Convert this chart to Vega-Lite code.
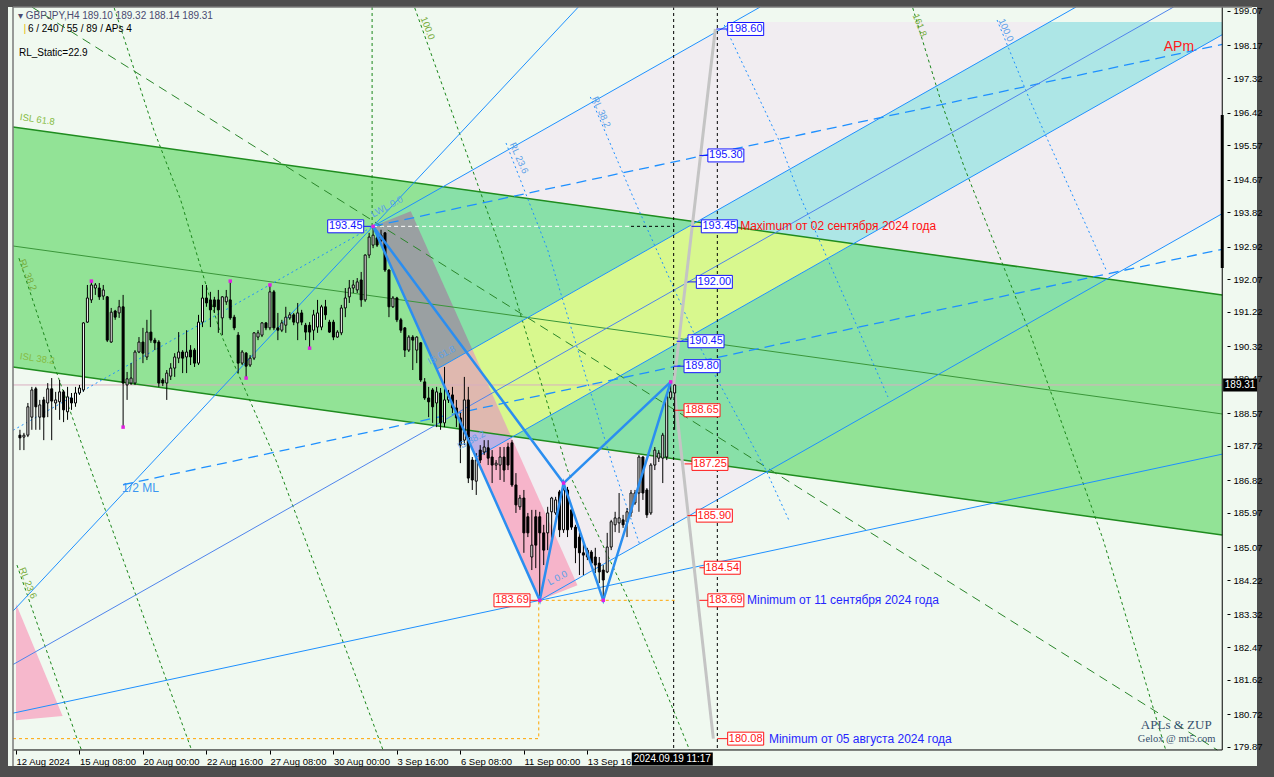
{
  "$schema": "https://vega.github.io/schema/vega-lite/v6.json",
  "width": 1249,
  "height": 759,
  "autosize": {"type": "none"},
  "padding": {"left": 8, "top": 7, "right": 17, "bottom": 11},
  "background": "#4e4e4e",
  "config": {
    "view": {"fill": "#f0f9f0", "stroke": null},
    "axis": {"domain": false, "grid": false, "labelFont": "Liberation Sans", "labelFontSize": 9.5, "labelColor": "#000000", "tickColor": "#000000", "labelFlush": false, "labelOverlap": false},
    "axisX": {"tickSize": 4, "labelAlign": "left", "labelBaseline": "top", "labelPadding": 2, "labelAngle": 0},
    "axisY": {"tickSize": 3, "labelPadding": 3, "labelBaseline": "middle"}
  },
  "datasets": {
    "zones": [
      {"z": "C", "k": 0, "b": 90, "p": 193.45}, {"z": "C", "k": 1, "b": 180.89, "p": 198.783}, {"z": "C", "k": 2, "b": 304, "p": 198.783}, {"z": "C", "k": 3, "b": 304, "p": 193.781}, {"z": "C", "k": 4, "b": 132, "p": 183.69},
      {"z": "G", "k": 0, "b": -0.75, "p": 196.042}, {"z": "G", "k": 1, "b": 304, "p": 191.658}, {"z": "G", "k": 2, "b": 304, "p": 185.395}, {"z": "G", "k": 3, "b": -0.75, "p": 189.779},
      {"z": "GC", "k": 0, "b": 90, "p": 193.45}, {"z": "GC", "k": 1, "b": 107.71, "p": 194.489}, {"z": "GC", "k": 2, "b": 275.04, "p": 192.082}, {"z": "GC", "k": 3, "b": 189.31, "p": 187.052}, {"z": "GC", "k": 4, "b": 112.79, "p": 188.153},
      {"z": "S", "k": 0, "b": 106.04, "p": 189.722}, {"z": "S", "k": 1, "b": 260.48, "p": 198.783}, {"z": "S", "k": 2, "b": 304, "p": 198.783}, {"z": "S", "k": 3, "b": 304, "p": 198.451}, {"z": "S", "k": 4, "b": 115.95, "p": 187.418},
      {"z": "Y", "k": 0, "b": 106.04, "p": 189.722}, {"z": "Y", "k": 1, "b": 171.63, "p": 193.57}, {"z": "Y", "k": 2, "b": 211.12, "p": 193.002}, {"z": "Y", "k": 3, "b": 125.39, "p": 187.972}, {"z": "Y", "k": 4, "b": 112.79, "p": 188.153},
      {"z": "gray", "k": 0, "b": 90, "p": 193.45}, {"z": "gray", "k": 1, "b": 99.5, "p": 193.842}, {"z": "gray", "k": 2, "b": 114.97, "p": 190.246}, {"z": "gray", "k": 3, "b": 106.04, "p": 189.722},
      {"z": "tan", "k": 0, "b": 106.04, "p": 189.722}, {"z": "tan", "k": 1, "b": 114.97, "p": 190.246}, {"z": "tan", "k": 2, "b": 124.72, "p": 187.982}, {"z": "tan", "k": 3, "b": 112.79, "p": 188.153},
      {"z": "lav", "k": 0, "b": 112.79, "p": 188.153}, {"z": "lav", "k": 1, "b": 124.72, "p": 187.982}, {"z": "lav", "k": 2, "b": 124.88, "p": 187.942}, {"z": "lav", "k": 3, "b": 115.95, "p": 187.418},
      {"z": "pink", "k": 0, "b": 115.95, "p": 187.418}, {"z": "pink", "k": 1, "b": 124.88, "p": 187.942}, {"z": "pink", "k": 2, "b": 141.5, "p": 184.082}, {"z": "pink", "k": 3, "b": 132, "p": 183.69},
      {"z": "tri", "k": 0, "b": 0, "p": 183.6}, {"z": "tri", "k": 1, "b": 11.75, "p": 180.67}, {"z": "tri", "k": 2, "b": 0, "p": 180.56}
    ],
    "lines": [
      {"s": "gedge", "id": "Gt", "k": 0, "b": -0.75, "p": 196.042}, {"s": "gedge", "id": "Gt", "k": 1, "b": 304, "p": 191.658},
      {"s": "gedge", "id": "Gb", "k": 0, "b": -0.75, "p": 189.779}, {"s": "gedge", "id": "Gb", "k": 1, "b": 304, "p": 185.395},
      {"s": "gmid", "id": "Gm", "k": 0, "b": -0.75, "p": 192.937}, {"s": "gmid", "id": "Gm", "k": 1, "b": 304, "p": 188.553},
      {"s": "blue", "id": "La", "k": 0, "b": -0.75, "p": 183.409}, {"s": "blue", "id": "La", "k": 1, "b": 141.73, "p": 199.174},
      {"s": "blue", "id": "P0", "k": 0, "b": 90, "p": 193.45}, {"s": "blue", "id": "P0", "k": 1, "b": 187.56, "p": 199.174},
      {"s": "blue", "id": "P1", "k": 0, "b": 106.04, "p": 189.722}, {"s": "blue", "id": "P1", "k": 1, "b": 267.16, "p": 199.174},
      {"s": "blue", "id": "P3", "k": 0, "b": 115.95, "p": 187.418}, {"s": "blue", "id": "P3", "k": 1, "b": 304, "p": 198.451},
      {"s": "blue", "id": "P4", "k": 0, "b": 132, "p": 183.69}, {"s": "blue", "id": "P4", "k": 1, "b": 304, "p": 193.781},
      {"s": "blue", "id": "Lc", "k": 0, "b": -0.75, "p": 180.745}, {"s": "blue", "id": "Lc", "k": 1, "b": 304, "p": 187.505},
      {"s": "blue2", "id": "P2", "k": 0, "b": -0.75, "p": 182.014}, {"s": "blue2", "id": "P2", "k": 1, "b": 291.74, "p": 199.174},
      {"s": "bluedot", "id": "P0L", "k": 0, "b": -0.75, "p": 188.126}, {"s": "bluedot", "id": "P0L", "k": 1, "b": 90, "p": 193.45},
      {"s": "bluedot", "id": "B1", "k": 0, "b": 123.5, "p": 195.625}, {"s": "bluedot", "id": "B1", "k": 1, "b": 134, "p": 192.833}, {"s": "bluedot", "id": "B1", "k": 2, "b": 150.5, "p": 187.17}, {"s": "bluedot", "id": "B1", "k": 3, "b": 157.25, "p": 185.13},
      {"s": "bluedot", "id": "B2", "k": 0, "b": 144.75, "p": 196.826}, {"s": "bluedot", "id": "B2", "k": 1, "b": 155.5, "p": 194.216}, {"s": "bluedot", "id": "B2", "k": 2, "b": 172.75, "p": 190.224}, {"s": "bluedot", "id": "B2", "k": 3, "b": 189, "p": 187.09}, {"s": "bluedot", "id": "B2", "k": 4, "b": 194.75, "p": 185.79},
      {"s": "bluedot", "id": "B3", "k": 0, "b": 178.5, "p": 198.705}, {"s": "bluedot", "id": "B3", "k": 1, "b": 192.25, "p": 195.703}, {"s": "bluedot", "id": "B3", "k": 2, "b": 197.25, "p": 194.32}, {"s": "bluedot", "id": "B3", "k": 3, "b": 219.75, "p": 188.997},
      {"s": "bluedot", "id": "B4", "k": 0, "b": 247.25, "p": 198.835}, {"s": "bluedot", "id": "B4", "k": 1, "b": 255.5, "p": 196.747}, {"s": "bluedot", "id": "B4", "k": 2, "b": 274.75, "p": 192.31},
      {"s": "bluedash", "id": "XT", "k": 0, "b": 90, "p": 193.45}, {"s": "bluedash", "id": "XT", "k": 1, "b": 304, "p": 198.197},
      {"s": "bluedash", "id": "ML2", "k": 0, "b": 27, "p": 186.706}, {"s": "bluedash", "id": "ML2", "k": 1, "b": 304, "p": 192.851},
      {"s": "greendash", "id": "Gv", "k": 0, "b": 89.75, "p": 199.174}, {"s": "greendash", "id": "Gv", "k": 1, "b": 89.75, "p": 193.45},
      {"s": "greendash", "id": "G1", "k": 0, "b": 100.5, "p": 199.15}, {"s": "greendash", "id": "G1", "k": 1, "b": 122.25, "p": 192.833}, {"s": "greendash", "id": "G1", "k": 2, "b": 139, "p": 187.09}, {"s": "greendash", "id": "G1", "k": 3, "b": 154.75, "p": 183.62}, {"s": "greendash", "id": "G1", "k": 4, "b": 169.75, "p": 179.784},
      {"s": "greendash", "id": "G2", "k": 0, "b": 0.75, "p": 192.62}, {"s": "greendash", "id": "G2", "k": 1, "b": 9.75, "p": 189.78}, {"s": "greendash", "id": "G2", "k": 2, "b": 18, "p": 187.35}, {"s": "greendash", "id": "G2", "k": 3, "b": 29.75, "p": 183.96}, {"s": "greendash", "id": "G2", "k": 4, "b": 44.25, "p": 179.784},
      {"s": "greendash", "id": "G3", "k": 0, "b": 0.25, "p": 184.61}, {"s": "greendash", "id": "G3", "k": 1, "b": 15.25, "p": 180.12}, {"s": "greendash", "id": "G3", "k": 2, "b": 16.5, "p": 179.784},
      {"s": "greendash", "id": "G4", "k": 0, "b": 24.75, "p": 199.15}, {"s": "greendash", "id": "G4", "k": 1, "b": 34.75, "p": 195.96}, {"s": "greendash", "id": "G4", "k": 2, "b": 41.5, "p": 194.14}, {"s": "greendash", "id": "G4", "k": 3, "b": 51.5, "p": 190.67}, {"s": "greendash", "id": "G4", "k": 4, "b": 65.5, "p": 187.35}, {"s": "greendash", "id": "G4", "k": 5, "b": 92.5, "p": 179.784},
      {"s": "greendash", "id": "G8", "k": 0, "b": 226, "p": 199.15}, {"s": "greendash", "id": "G8", "k": 1, "b": 233, "p": 196.75}, {"s": "greendash", "id": "G8", "k": 2, "b": 239, "p": 194.99}, {"s": "greendash", "id": "G8", "k": 3, "b": 255.5, "p": 190.67}, {"s": "greendash", "id": "G8", "k": 4, "b": 274, "p": 185.27}, {"s": "greendash", "id": "G8", "k": 5, "b": 289.75, "p": 179.784},
      {"s": "greenlong", "id": "G5", "k": 0, "b": 4, "p": 199.174}, {"s": "greenlong", "id": "G5", "k": 1, "b": 302.75, "p": 179.784},
      {"s": "orange", "id": "O1", "k": 0, "b": -0.75, "p": 180.08}, {"s": "orange", "id": "O1", "k": 1, "b": 131.75, "p": 180.08}, {"s": "orange", "id": "O1", "k": 2, "b": 131.75, "p": 183.69},
      {"s": "orange", "id": "O2", "k": 0, "b": 132, "p": 183.69}, {"s": "orange", "id": "O2", "k": 1, "b": 166, "p": 183.69},
      {"s": "whitedash", "id": "W", "k": 0, "b": 90, "p": 193.45}, {"s": "whitedash", "id": "W", "k": 1, "b": 155, "p": 193.45},
      {"s": "blackdash", "id": "K", "k": 0, "b": 155, "p": 193.45}, {"s": "blackdash", "id": "K", "k": 1, "b": 166, "p": 193.45},
      {"s": "blackdash", "id": "V1", "k": 0, "b": 165.75, "p": 199.174}, {"s": "blackdash", "id": "V1", "k": 1, "b": 165.75, "p": 179.784},
      {"s": "blackdash", "id": "V2", "k": 0, "b": 176.75, "p": 199.174}, {"s": "blackdash", "id": "V2", "k": 1, "b": 176.75, "p": 179.784},
      {"s": "forecast", "id": "F", "k": 0, "b": 176.25, "p": 198.6}, {"s": "forecast", "id": "F", "k": 1, "b": 165.75, "p": 189.31}, {"s": "forecast", "id": "F", "k": 2, "b": 175.75, "p": 180.08},
      {"s": "zup", "id": "Z1", "k": 0, "b": 90, "p": 193.45}, {"s": "zup", "id": "Z1", "k": 1, "b": 132, "p": 183.69}, {"s": "zup", "id": "Z1", "k": 2, "b": 138, "p": 186.75}, {"s": "zup", "id": "Z1", "k": 3, "b": 148, "p": 183.69}, {"s": "zup", "id": "Z1", "k": 4, "b": 165, "p": 189.39},
      {"s": "zup", "id": "Z2", "k": 0, "b": 90, "p": 193.45}, {"s": "zup", "id": "Z2", "k": 1, "b": 138, "p": 186.75}, {"s": "zup", "id": "Z2", "k": 2, "b": 165, "p": 189.39},
      {"s": "frame", "id": "R", "k": 0, "b": 304, "p": 179.784}, {"s": "frame", "id": "R", "k": 1, "b": 304, "p": 199.174},
      {"s": "frame", "id": "Bt", "k": 0, "b": -0.75, "p": 179.784}, {"s": "frame", "id": "Bt", "k": 1, "b": 304, "p": 179.784},
      {"s": "gframe", "id": "T", "k": 0, "b": -0.75, "p": 199.174}, {"s": "gframe", "id": "T", "k": 1, "b": 311.5, "p": 199.174},
      {"s": "gframe", "id": "L", "k": 0, "b": -0.75, "p": 199.174}, {"s": "gframe", "id": "L", "k": 1, "b": -0.75, "p": 179.366},
      {"s": "priceline", "id": "PL", "k": 0, "b": -0.75, "p": 189.31}, {"s": "priceline", "id": "PL", "k": 1, "b": 304, "p": 189.31},
      {"s": "axisbar", "id": "AB", "k": 0, "b": 304, "p": 196.356}, {"s": "axisbar", "id": "AB", "k": 1, "b": 304, "p": 192.363}
    ],
    "candles": [
      {"b":1,"o":188.00,"h":188.14,"l":187.61,"c":187.93},{"b":2,"o":187.95,"h":188.06,"l":187.61,"c":188.00},{"b":3,"o":188.00,"h":188.84,"l":187.95,"c":188.74},{"b":4,"o":188.47,"h":189.26,"l":188.14,"c":189.18},{"b":5,"o":189.21,"h":189.26,"l":188.14,"c":188.74},
      {"b":6,"o":188.47,"h":188.92,"l":188.14,"c":188.79},{"b":7,"o":188.92,"h":189.00,"l":187.87,"c":188.47},{"b":8,"o":188.84,"h":189.36,"l":188.47,"c":189.21},{"b":9,"o":189.21,"h":189.49,"l":187.87,"c":188.89},{"b":10,"o":188.84,"h":189.13,"l":188.66,"c":188.92},
      {"b":11,"o":188.87,"h":189.44,"l":188.40,"c":189.13},{"b":12,"o":189.13,"h":189.18,"l":188.34,"c":188.66},{"b":13,"o":188.61,"h":189.26,"l":188.40,"c":189.00},{"b":14,"o":188.97,"h":189.10,"l":188.66,"c":188.84},{"b":15,"o":188.84,"h":189.26,"l":188.74,"c":189.10},
      {"b":16,"o":189.10,"h":189.31,"l":189.05,"c":189.23},{"b":17,"o":189.18,"h":190.95,"l":189.13,"c":190.93},{"b":18,"o":190.95,"h":191.92,"l":190.93,"c":191.58},{"b":19,"o":191.53,"h":192.02,"l":191.45,"c":191.92},{"b":20,"o":191.84,"h":191.97,"l":191.66,"c":191.92},
      {"b":21,"o":191.84,"h":191.97,"l":191.53,"c":191.61},{"b":22,"o":191.63,"h":191.92,"l":191.53,"c":191.79},{"b":23,"o":191.61,"h":191.63,"l":190.43,"c":190.48},{"b":24,"o":190.43,"h":191.32,"l":190.41,"c":191.21},{"b":25,"o":191.24,"h":191.27,"l":191.01,"c":191.08},
      {"b":26,"o":191.19,"h":191.53,"l":191.06,"c":191.35},{"b":27,"o":191.35,"h":191.66,"l":188.21,"c":189.36},{"b":28,"o":189.31,"h":189.65,"l":188.92,"c":189.47},{"b":29,"o":189.36,"h":189.88,"l":189.31,"c":189.49},{"b":30,"o":189.36,"h":190.22,"l":189.31,"c":190.17},
      {"b":31,"o":190.17,"h":190.56,"l":190.14,"c":190.43},{"b":32,"o":190.43,"h":190.80,"l":189.88,"c":190.14},{"b":33,"o":190.04,"h":191.01,"l":189.96,"c":190.69},{"b":34,"o":190.69,"h":191.27,"l":190.41,"c":190.48},{"b":35,"o":190.48,"h":190.54,"l":190.22,"c":190.41},
      {"b":36,"o":190.43,"h":190.48,"l":189.26,"c":189.36},{"b":37,"o":189.44,"h":189.49,"l":189.28,"c":189.36},{"b":38,"o":189.36,"h":189.70,"l":188.92,"c":189.62},{"b":39,"o":189.54,"h":189.88,"l":189.44,"c":189.75},{"b":40,"o":189.75,"h":190.14,"l":189.52,"c":190.04},
      {"b":41,"o":190.01,"h":190.69,"l":189.88,"c":190.17},{"b":42,"o":190.17,"h":190.22,"l":189.62,"c":190.01},{"b":43,"o":190.04,"h":190.74,"l":189.62,"c":190.17},{"b":44,"o":190.22,"h":190.35,"l":189.83,"c":190.04},{"b":45,"o":190.22,"h":190.27,"l":189.78,"c":189.88},
      {"b":46,"o":189.88,"h":191.14,"l":189.83,"c":190.95},{"b":47,"o":190.95,"h":191.92,"l":190.82,"c":191.58},{"b":48,"o":191.58,"h":191.92,"l":191.35,"c":191.45},{"b":49,"o":191.53,"h":191.74,"l":190.82,"c":191.27},{"b":50,"o":191.53,"h":191.61,"l":191.19,"c":191.35},
      {"b":51,"o":191.53,"h":191.79,"l":190.67,"c":191.27},{"b":52,"o":191.06,"h":191.63,"l":190.61,"c":191.61},{"b":53,"o":191.48,"h":191.79,"l":191.40,"c":191.61},{"b":54,"o":191.53,"h":192.02,"l":191.01,"c":191.06},{"b":55,"o":191.08,"h":191.14,"l":190.74,"c":190.80},
      {"b":56,"o":190.61,"h":190.69,"l":189.62,"c":189.88},{"b":57,"o":189.88,"h":190.22,"l":189.83,"c":190.17},{"b":58,"o":190.14,"h":190.17,"l":189.49,"c":189.80},{"b":59,"o":189.83,"h":190.09,"l":189.78,"c":190.01},{"b":60,"o":190.01,"h":190.69,"l":189.96,"c":190.67},
      {"b":61,"o":190.56,"h":190.74,"l":190.48,"c":190.67},{"b":62,"o":190.61,"h":190.95,"l":190.56,"c":190.93},{"b":63,"o":190.93,"h":190.95,"l":190.74,"c":190.80},{"b":64,"o":190.80,"h":191.92,"l":190.74,"c":191.74},{"b":65,"o":191.74,"h":191.79,"l":190.74,"c":190.80},
      {"b":66,"o":190.80,"h":191.19,"l":190.48,"c":190.74},{"b":67,"o":190.74,"h":191.01,"l":190.69,"c":190.93},{"b":68,"o":190.87,"h":191.35,"l":190.67,"c":191.08},{"b":69,"o":191.06,"h":191.21,"l":191.01,"c":191.14},{"b":70,"o":191.14,"h":191.19,"l":190.87,"c":190.95},
      {"b":71,"o":190.93,"h":191.45,"l":190.48,"c":191.19},{"b":72,"o":191.19,"h":191.27,"l":190.87,"c":190.95},{"b":73,"o":190.87,"h":190.93,"l":190.48,"c":190.69},{"b":74,"o":190.87,"h":190.95,"l":190.27,"c":190.69},{"b":75,"o":190.74,"h":191.27,"l":190.48,"c":191.14},
      {"b":76,"o":190.82,"h":191.53,"l":190.67,"c":191.19},{"b":77,"o":190.82,"h":191.40,"l":190.74,"c":191.35},{"b":78,"o":191.35,"h":191.53,"l":191.01,"c":191.14},{"b":79,"o":190.95,"h":191.01,"l":190.67,"c":190.69},{"b":80,"o":190.95,"h":191.01,"l":190.48,"c":190.56},
      {"b":81,"o":190.56,"h":190.74,"l":190.54,"c":190.69},{"b":82,"o":190.67,"h":191.40,"l":190.61,"c":191.32},{"b":83,"o":191.32,"h":191.84,"l":191.08,"c":191.58},{"b":84,"o":191.61,"h":192.05,"l":191.45,"c":191.84},{"b":85,"o":191.84,"h":192.05,"l":191.71,"c":191.92},
      {"b":86,"o":191.79,"h":192.10,"l":191.71,"c":192.00},{"b":87,"o":192.05,"h":192.26,"l":191.35,"c":191.53},{"b":88,"o":191.53,"h":192.72,"l":191.48,"c":192.70},{"b":89,"o":192.70,"h":193.28,"l":192.62,"c":193.17},{"b":90,"o":192.96,"h":193.45,"l":192.88,"c":193.22},
      {"b":91,"o":193.15,"h":193.22,"l":192.91,"c":192.96},{"b":92,"o":193.09,"h":193.36,"l":193.04,"c":193.22},{"b":93,"o":193.28,"h":193.30,"l":192.26,"c":192.31},{"b":94,"o":192.31,"h":192.33,"l":191.08,"c":191.35},{"b":95,"o":191.35,"h":191.63,"l":191.32,"c":191.58},
      {"b":96,"o":191.58,"h":191.61,"l":190.95,"c":191.01},{"b":97,"o":191.01,"h":191.06,"l":190.67,"c":190.74},{"b":98,"o":190.80,"h":190.82,"l":190.04,"c":190.22},{"b":99,"o":190.22,"h":190.61,"l":190.17,"c":190.56},{"b":100,"o":190.56,"h":190.61,"l":189.70,"c":190.48},
      {"b":101,"o":190.22,"h":190.58,"l":189.88,"c":190.56},{"b":102,"o":190.41,"h":190.43,"l":189.39,"c":189.44},{"b":103,"o":189.39,"h":189.49,"l":188.92,"c":188.97},{"b":104,"o":188.97,"h":189.26,"l":188.47,"c":188.87},{"b":105,"o":189.18,"h":189.23,"l":188.32,"c":188.74},
      {"b":106,"o":188.84,"h":189.26,"l":188.21,"c":189.13},{"b":107,"o":189.10,"h":189.23,"l":188.14,"c":188.32},{"b":108,"o":188.32,"h":189.78,"l":188.21,"c":188.92},{"b":109,"o":188.92,"h":189.18,"l":188.84,"c":189.10},{"b":110,"o":189.05,"h":189.26,"l":188.58,"c":188.71},
      {"b":111,"o":188.71,"h":188.92,"l":188.21,"c":188.45},{"b":112,"o":188.45,"h":188.58,"l":187.27,"c":187.74},{"b":113,"o":187.87,"h":189.52,"l":187.74,"c":188.92},{"b":114,"o":188.92,"h":189.26,"l":186.75,"c":186.88},{"b":115,"o":187.35,"h":187.43,"l":186.57,"c":186.83},
      {"b":116,"o":186.80,"h":187.53,"l":186.44,"c":187.35},{"b":117,"o":187.61,"h":187.74,"l":187.27,"c":187.35},{"b":118,"o":187.56,"h":187.87,"l":187.48,"c":187.69},{"b":119,"o":187.67,"h":187.87,"l":187.22,"c":187.40},{"b":120,"o":187.43,"h":187.61,"l":186.75,"c":187.22},
      {"b":121,"o":187.22,"h":187.35,"l":187.09,"c":187.27},{"b":122,"o":187.22,"h":187.69,"l":186.83,"c":187.43},{"b":123,"o":187.43,"h":187.69,"l":186.78,"c":187.09},{"b":124,"o":187.69,"h":187.80,"l":187.09,"c":187.22},{"b":125,"o":187.80,"h":187.87,"l":186.65,"c":186.70},
      {"b":126,"o":186.70,"h":187.01,"l":185.97,"c":186.18},{"b":127,"o":186.13,"h":186.44,"l":186.05,"c":186.36},{"b":128,"o":186.36,"h":186.57,"l":184.93,"c":185.45},{"b":129,"o":185.87,"h":185.97,"l":185.34,"c":185.45},{"b":130,"o":184.82,"h":186.05,"l":184.48,"c":185.13},
      {"b":131,"o":185.87,"h":186.05,"l":184.53,"c":185.13},{"b":132,"o":185.87,"h":186.00,"l":183.69,"c":185.45},{"b":133,"o":185.45,"h":185.66,"l":184.61,"c":185.00},{"b":134,"o":185.45,"h":186.13,"l":185.00,"c":185.97},{"b":135,"o":186.00,"h":186.39,"l":185.32,"c":186.36},
      {"b":136,"o":185.97,"h":186.39,"l":185.92,"c":186.31},{"b":137,"o":186.52,"h":186.57,"l":185.34,"c":185.53},{"b":138,"o":185.53,"h":186.75,"l":185.45,"c":186.57},{"b":139,"o":186.57,"h":186.65,"l":185.34,"c":185.53},{"b":140,"o":186.05,"h":186.13,"l":185.53,"c":185.60},
      {"b":141,"o":185.60,"h":185.66,"l":184.66,"c":185.06},{"b":142,"o":185.34,"h":185.45,"l":184.35,"c":184.93},{"b":143,"o":184.93,"h":185.19,"l":184.35,"c":184.87},{"b":144,"o":184.82,"h":185.06,"l":184.74,"c":185.00},{"b":145,"o":184.95,"h":185.00,"l":184.61,"c":184.66},
      {"b":146,"o":184.82,"h":185.06,"l":184.40,"c":184.61},{"b":147,"o":184.66,"h":184.82,"l":184.14,"c":184.43},{"b":148,"o":184.48,"h":184.61,"l":183.69,"c":184.22},{"b":149,"o":184.43,"h":185.45,"l":184.40,"c":185.08},{"b":150,"o":185.08,"h":185.79,"l":185.00,"c":185.74},
      {"b":151,"o":185.66,"h":186.00,"l":185.47,"c":185.84},{"b":152,"o":185.71,"h":186.49,"l":185.45,"c":185.84},{"b":153,"o":185.79,"h":185.92,"l":185.58,"c":185.66},{"b":154,"o":185.74,"h":186.10,"l":185.34,"c":186.00},{"b":155,"o":185.97,"h":186.57,"l":185.87,"c":186.49},
      {"b":156,"o":186.23,"h":186.57,"l":186.18,"c":186.49},{"b":157,"o":186.49,"h":187.48,"l":186.00,"c":187.43},{"b":158,"o":187.43,"h":187.45,"l":186.31,"c":186.49},{"b":159,"o":186.57,"h":186.62,"l":185.84,"c":185.92},{"b":160,"o":185.97,"h":187.27,"l":185.92,"c":187.22},
      {"b":161,"o":187.22,"h":187.69,"l":187.09,"c":187.61},{"b":162,"o":187.40,"h":187.61,"l":187.30,"c":187.53},{"b":163,"o":187.40,"h":188.06,"l":186.75,"c":188.00},{"b":164,"o":187.43,"h":189.05,"l":187.35,"c":189.00},{"b":165,"o":188.97,"h":189.39,"l":188.92,"c":189.13},
      {"b":166,"o":189.10,"h":189.32,"l":188.14,"c":189.31}
    ],
    "pivots": [
      {"b": 19, "p": 192.02}, {"b": 27, "p": 188.21}, {"b": 54, "p": 192.02}, {"b": 58, "p": 189.49}, {"b": 64, "p": 191.92}, {"b": 74, "p": 190.27},
      {"b": 90, "p": 193.45}, {"b": 132, "p": 183.69}, {"b": 138, "p": 186.75}, {"b": 148, "p": 183.69}, {"b": 165, "p": 189.39}
    ],
    "levels": [
      {"t": "198.60", "p": 198.6, "bx": 183.9, "ba": 176.5, "kind": "blue"},
      {"t": "195.30", "p": 195.3, "bx": 178.9, "ba": 172.25, "kind": "blue"},
      {"t": "193.45", "p": 193.45, "bx": 177.25, "ba": 170.25, "kind": "blue"},
      {"t": "192.00", "p": 192.0, "bx": 176.0, "ba": 169.25, "kind": "blue"},
      {"t": "190.45", "p": 190.45, "bx": 173.9, "ba": 166.5, "kind": "blue"},
      {"t": "189.80", "p": 189.8, "bx": 172.9, "ba": 165.75, "kind": "blue"},
      {"t": "193.45", "p": 193.45, "bx": 83.1, "ba": 89.5, "kind": "blue"},
      {"t": "188.65", "p": 188.65, "bx": 172.9, "ba": 166.0, "kind": "red"},
      {"t": "187.25", "p": 187.25, "bx": 174.9, "ba": 168.5, "kind": "red"},
      {"t": "185.90", "p": 185.9, "bx": 176.0, "ba": 169.25, "kind": "red"},
      {"t": "184.54", "p": 184.54, "bx": 178.0, "ba": 172.25, "kind": "red"},
      {"t": "183.69", "p": 183.69, "bx": 178.9, "ba": 172.25, "kind": "red"},
      {"t": "180.08", "p": 180.08, "bx": 183.9, "ba": 176.75, "kind": "red"},
      {"t": "183.69", "p": 183.69, "bx": 125.0, "ba": 131.5, "kind": "red"}
    ],
    "notes": [
      {"w": "maxred", "t": "Maximum от 02 сентября 2024 года", "b": 182.5, "p": 193.45},
      {"w": "minblue", "t": "Minimum от 11 сентября 2024 года", "b": 184.25, "p": 183.69},
      {"w": "minblue", "t": "Minimum от 05 августа 2024 года", "b": 189.75, "p": 180.08},
      {"w": "apm", "t": "APm", "b": 289.25, "p": 198.13},
      {"w": "apls", "t": "APLs & ZUP", "b": 292.4, "p": 180.43},
      {"w": "gelox", "t": "Gelox @ mt5.com", "b": 292.5, "p": 180.06},
      {"w": "ml", "t": "1/2 ML", "b": 26.75, "p": 186.62},
      {"w": "hdr", "t": "▾  GBPJPY,H4  189.10 189.32 188.14 189.31", "b": 0.5, "p": 198.94},
      {"w": "hdr2", "t": "6 / 240 / 55 / 89 / APs 4", "b": 3.0, "p": 198.6},
      {"w": "hdr2", "t": "RL_Static=22.9", "b": 0.75, "p": 197.97},
      {"w": "ybar", "t": "|", "b": 1.9, "p": 198.6},
      {"w": "isl", "t": "ISL 61.8", "b": 1.0, "p": 196.3},
      {"w": "isl", "t": "ISL 38.2", "b": 1.0, "p": 190.06},
      {"w": "glab", "t": "RL 38.2", "b": 3.0, "p": 192.18},
      {"w": "glab", "t": "RL 23.6", "b": 3.0, "p": 184.14},
      {"w": "glab", "t": "100.0", "b": 103.75, "p": 198.62},
      {"w": "glab", "t": "161.8", "b": 227.75, "p": 198.7},
      {"w": "blab", "t": "RL 23.6", "b": 126.75, "p": 195.23},
      {"w": "blab", "t": "RL 38.2", "b": 147.5, "p": 196.43},
      {"w": "blab", "t": "100.0", "b": 249.5, "p": 198.57},
      {"w": "blab2", "t": "IS 61.8", "b": 107.25, "p": 190.09},
      {"w": "blab2", "t": "IS 38.2", "b": 114.75, "p": 187.87},
      {"w": "blab2", "t": "L 0.0", "b": 136.5, "p": 184.27},
      {"w": "blab2", "t": "LWL 0.0", "b": 93.5, "p": 193.96}
    ],
    "tags": [
      {"w": "cur", "t": "189.31", "b": 308.5, "p": 189.31},
      {"w": "time", "t": "2024.09.19 11:17", "b": 165.4, "p": 179.55}
    ]
  },
  "encoding": {
    "x": {"field": "b", "type": "quantitative", "scale": {"domain": [-0.75, 311.5], "nice": false, "zero": false},
      "axis": {"title": null, "orient": "bottom", "offset": -16, "values": [0, 16, 32, 48, 64, 80, 96, 112, 128, 144],
        "labelExpr": "datum.value < 8 ? '12 Aug 2024' : datum.value < 24 ? '15 Aug 08:00' : datum.value < 40 ? '20 Aug 00:00' : datum.value < 56 ? '22 Aug 16:00' : datum.value < 72 ? '27 Aug 08:00' : datum.value < 88 ? '30 Aug 00:00' : datum.value < 104 ? '3 Sep 16:00' : datum.value < 120 ? '6 Sep 08:00' : datum.value < 136 ? '11 Sep 00:00' : '13 Sep 16:00'"}},
    "y": {"field": "p", "type": "quantitative", "scale": {"domain": [179.366, 199.174], "nice": false, "zero": false},
      "axis": {"title": null, "orient": "right", "offset": -30, "format": ".2f",
        "values": [199.07, 198.17, 197.32, 196.42, 195.57, 194.67, 193.82, 192.92, 192.07, 191.22, 190.32, 189.47, 188.57, 187.72, 186.82, 185.97, 185.07, 184.22, 183.32, 182.47, 181.62, 180.72, 179.87]}}
  },
  "layer": [
    {"data": {"name": "zones"}, "transform": [{"filter": "datum.z === 'C'"}], "mark": {"type": "line", "fill": "#f1edf1", "stroke": "transparent", "strokeWidth": 0}, "encoding": {"order": {"field": "k", "type": "quantitative"}}},
    {"data": {"name": "zones"}, "transform": [{"filter": "datum.z === 'G'"}], "mark": {"type": "line", "fill": "#92e396", "stroke": "transparent", "strokeWidth": 0}, "encoding": {"order": {"field": "k", "type": "quantitative"}}},
    {"data": {"name": "zones"}, "transform": [{"filter": "datum.z === 'GC'"}], "mark": {"type": "line", "fill": "#88e0a8", "stroke": "transparent", "strokeWidth": 0}, "encoding": {"order": {"field": "k", "type": "quantitative"}}},
    {"data": {"name": "zones"}, "transform": [{"filter": "datum.z === 'S'"}], "mark": {"type": "line", "fill": "#ade6e6", "stroke": "transparent", "strokeWidth": 0}, "encoding": {"order": {"field": "k", "type": "quantitative"}}},
    {"data": {"name": "zones"}, "transform": [{"filter": "datum.z === 'Y'"}], "mark": {"type": "line", "fill": "#d8f88e", "stroke": "transparent", "strokeWidth": 0}, "encoding": {"order": {"field": "k", "type": "quantitative"}}},
    {"data": {"name": "zones"}, "transform": [{"filter": "datum.z === 'gray'"}], "mark": {"type": "line", "fill": "#9aa0a2", "stroke": "transparent", "strokeWidth": 0}, "encoding": {"order": {"field": "k", "type": "quantitative"}}},
    {"data": {"name": "zones"}, "transform": [{"filter": "datum.z === 'tan'"}], "mark": {"type": "line", "fill": "#dfb8af", "stroke": "transparent", "strokeWidth": 0}, "encoding": {"order": {"field": "k", "type": "quantitative"}}},
    {"data": {"name": "zones"}, "transform": [{"filter": "datum.z === 'lav'"}], "mark": {"type": "line", "fill": "#bcb0e4", "stroke": "transparent", "strokeWidth": 0}, "encoding": {"order": {"field": "k", "type": "quantitative"}}},
    {"data": {"name": "zones"}, "transform": [{"filter": "datum.z === 'pink'"}], "mark": {"type": "line", "fill": "#f6b4ca", "stroke": "transparent", "strokeWidth": 0}, "encoding": {"order": {"field": "k", "type": "quantitative"}}},
    {"data": {"name": "zones"}, "transform": [{"filter": "datum.z === 'tri'"}], "mark": {"type": "line", "fill": "#f6b8cc", "stroke": "transparent", "strokeWidth": 0}, "encoding": {"order": {"field": "k", "type": "quantitative"}}},

    {"data": {"name": "lines"}, "transform": [{"filter": "datum.s === 'priceline'"}], "mark": {"type": "line", "color": "#d9aec0", "strokeWidth": 1}, "encoding": {"detail": {"field": "id"}, "order": {"field": "k", "type": "quantitative"}}},
    {"data": {"name": "lines"}, "transform": [{"filter": "datum.s === 'gedge'"}], "mark": {"type": "line", "color": "#1f8c1f", "strokeWidth": 1.5}, "encoding": {"detail": {"field": "id"}, "order": {"field": "k", "type": "quantitative"}}},
    {"data": {"name": "lines"}, "transform": [{"filter": "datum.s === 'gmid'"}], "mark": {"type": "line", "color": "#3a963a", "strokeWidth": 1}, "encoding": {"detail": {"field": "id"}, "order": {"field": "k", "type": "quantitative"}}},
    {"data": {"name": "lines"}, "transform": [{"filter": "datum.s === 'greendash'"}], "mark": {"type": "line", "color": "#1a861a", "strokeWidth": 1, "strokeDash": [3, 3]}, "encoding": {"detail": {"field": "id"}, "order": {"field": "k", "type": "quantitative"}}},
    {"data": {"name": "lines"}, "transform": [{"filter": "datum.s === 'greenlong'"}], "mark": {"type": "line", "color": "#2a862a", "strokeWidth": 1, "strokeDash": [9, 6]}, "encoding": {"detail": {"field": "id"}, "order": {"field": "k", "type": "quantitative"}}},
    {"data": {"name": "lines"}, "transform": [{"filter": "datum.s === 'bluedot'"}], "mark": {"type": "line", "color": "#1e90ff", "strokeWidth": 1, "strokeDash": [2, 3]}, "encoding": {"detail": {"field": "id"}, "order": {"field": "k", "type": "quantitative"}}},
    {"data": {"name": "lines"}, "transform": [{"filter": "datum.s === 'bluedash'"}], "mark": {"type": "line", "color": "#1e90ff", "strokeWidth": 1.3, "strokeDash": [10, 6]}, "encoding": {"detail": {"field": "id"}, "order": {"field": "k", "type": "quantitative"}}},
    {"data": {"name": "lines"}, "transform": [{"filter": "datum.s === 'blue'"}], "mark": {"type": "line", "color": "#1e90ff", "strokeWidth": 1}, "encoding": {"detail": {"field": "id"}, "order": {"field": "k", "type": "quantitative"}}},
    {"data": {"name": "lines"}, "transform": [{"filter": "datum.s === 'blue2'"}], "mark": {"type": "line", "color": "#4f84ec", "strokeWidth": 1}, "encoding": {"detail": {"field": "id"}, "order": {"field": "k", "type": "quantitative"}}},
    {"data": {"name": "lines"}, "transform": [{"filter": "datum.s === 'orange'"}], "mark": {"type": "line", "color": "#ffa500", "strokeWidth": 1, "strokeDash": [3, 3]}, "encoding": {"detail": {"field": "id"}, "order": {"field": "k", "type": "quantitative"}}},
    {"data": {"name": "lines"}, "transform": [{"filter": "datum.s === 'whitedash'"}], "mark": {"type": "line", "color": "#ffffff", "strokeWidth": 1, "strokeDash": [4, 3]}, "encoding": {"detail": {"field": "id"}, "order": {"field": "k", "type": "quantitative"}}},
    {"data": {"name": "lines"}, "transform": [{"filter": "datum.s === 'blackdash'"}], "mark": {"type": "line", "color": "#000000", "strokeWidth": 1, "strokeDash": [3, 3]}, "encoding": {"detail": {"field": "id"}, "order": {"field": "k", "type": "quantitative"}}},
    {"data": {"name": "lines"}, "transform": [{"filter": "datum.s === 'forecast'"}], "mark": {"type": "line", "color": "#c4c4c4", "strokeWidth": 3}, "encoding": {"detail": {"field": "id"}, "order": {"field": "k", "type": "quantitative"}}},

    {"data": {"name": "candles"}, "mark": {"type": "rule", "color": "#000000", "strokeWidth": 1},
      "encoding": {"y": {"field": "l", "type": "quantitative", "scale": {"domain": [179.366, 199.174], "nice": false, "zero": false},
        "axis": {"title": null, "orient": "right", "offset": -30, "format": ".2f", "values": [199.07, 198.17, 197.32, 196.42, 195.57, 194.67, 193.82, 192.92, 192.07, 191.22, 190.32, 189.47, 188.57, 187.72, 186.82, 185.97, 185.07, 184.22, 183.32, 182.47, 181.62, 180.72, 179.87]}},
        "y2": {"field": "h"}}},
    {"data": {"name": "candles"}, "mark": {"type": "bar", "size": 2, "stroke": "#000000", "strokeWidth": 1},
      "encoding": {"y": {"field": "o", "type": "quantitative", "scale": {"domain": [179.366, 199.174], "nice": false, "zero": false},
        "axis": {"title": null, "orient": "right", "offset": -30, "format": ".2f", "values": [199.07, 198.17, 197.32, 196.42, 195.57, 194.67, 193.82, 192.92, 192.07, 191.22, 190.32, 189.47, 188.57, 187.72, 186.82, 185.97, 185.07, 184.22, 183.32, 182.47, 181.62, 180.72, 179.87]}},
        "y2": {"field": "c"},
        "fill": {"condition": {"test": "datum.c >= datum.o", "value": "#ffffff"}, "value": "#000000"}}},

    {"data": {"name": "lines"}, "transform": [{"filter": "datum.s === 'zup'"}], "mark": {"type": "line", "color": "#2b8ef0", "strokeWidth": 2.5}, "encoding": {"detail": {"field": "id"}, "order": {"field": "k", "type": "quantitative"}}},
    {"data": {"name": "pivots"}, "mark": {"type": "square", "size": 12, "color": "#e020e0", "opacity": 1}},
    {"data": {"name": "lines"}, "transform": [{"filter": "datum.s === 'frame'"}], "mark": {"type": "line", "color": "#000000", "strokeWidth": 1}, "encoding": {"detail": {"field": "id"}, "order": {"field": "k", "type": "quantitative"}}},
    {"data": {"name": "lines"}, "transform": [{"filter": "datum.s === 'gframe'"}], "mark": {"type": "line", "color": "#7a7a7a", "strokeWidth": 1.5}, "encoding": {"detail": {"field": "id"}, "order": {"field": "k", "type": "quantitative"}}},
    {"data": {"name": "lines"}, "transform": [{"filter": "datum.s === 'axisbar'"}], "mark": {"type": "line", "color": "#000000", "strokeWidth": 3}, "encoding": {"detail": {"field": "id"}, "order": {"field": "k", "type": "quantitative"}}},

    {"data": {"name": "levels"}, "mark": {"type": "rule", "strokeWidth": 1},
      "encoding": {"x": {"field": "ba", "type": "quantitative", "scale": {"domain": [-0.75, 311.5], "nice": false, "zero": false},
        "axis": {"title": null, "orient": "bottom", "offset": -16, "values": [0, 16, 32, 48, 64, 80, 96, 112, 128, 144],
          "labelExpr": "datum.value < 8 ? '12 Aug 2024' : datum.value < 24 ? '15 Aug 08:00' : datum.value < 40 ? '20 Aug 00:00' : datum.value < 56 ? '22 Aug 16:00' : datum.value < 72 ? '27 Aug 08:00' : datum.value < 88 ? '30 Aug 00:00' : datum.value < 104 ? '3 Sep 16:00' : datum.value < 120 ? '6 Sep 08:00' : datum.value < 136 ? '11 Sep 00:00' : '13 Sep 16:00'"}},
        "x2": {"field": "bx"},
        "color": {"field": "kind", "type": "nominal", "scale": {"domain": ["blue", "red"], "range": ["#1414ff", "#ff1414"]}, "legend": null}}},
    {"data": {"name": "levels"}, "mark": {"type": "point", "shape": "M-1,-0.36H1V0.36H-1Z", "size": 1296, "filled": true, "fill": "#ffffff", "fillOpacity": 1, "opacity": 1, "strokeWidth": 1},
      "encoding": {"x": {"field": "bx", "type": "quantitative", "scale": {"domain": [-0.75, 311.5], "nice": false, "zero": false},
        "axis": {"title": null, "orient": "bottom", "offset": -16, "values": [0, 16, 32, 48, 64, 80, 96, 112, 128, 144],
          "labelExpr": "datum.value < 8 ? '12 Aug 2024' : datum.value < 24 ? '15 Aug 08:00' : datum.value < 40 ? '20 Aug 00:00' : datum.value < 56 ? '22 Aug 16:00' : datum.value < 72 ? '27 Aug 08:00' : datum.value < 88 ? '30 Aug 00:00' : datum.value < 104 ? '3 Sep 16:00' : datum.value < 120 ? '6 Sep 08:00' : datum.value < 136 ? '11 Sep 00:00' : '13 Sep 16:00'"}},
        "stroke": {"field": "kind", "type": "nominal", "scale": {"domain": ["blue", "red"], "range": ["#1414ff", "#ff1414"]}, "legend": null}}},
    {"data": {"name": "levels"}, "mark": {"type": "text", "font": "Liberation Sans", "fontSize": 11, "align": "center", "baseline": "middle"},
      "encoding": {"x": {"field": "bx", "type": "quantitative", "scale": {"domain": [-0.75, 311.5], "nice": false, "zero": false},
        "axis": {"title": null, "orient": "bottom", "offset": -16, "values": [0, 16, 32, 48, 64, 80, 96, 112, 128, 144],
          "labelExpr": "datum.value < 8 ? '12 Aug 2024' : datum.value < 24 ? '15 Aug 08:00' : datum.value < 40 ? '20 Aug 00:00' : datum.value < 56 ? '22 Aug 16:00' : datum.value < 72 ? '27 Aug 08:00' : datum.value < 88 ? '30 Aug 00:00' : datum.value < 104 ? '3 Sep 16:00' : datum.value < 120 ? '6 Sep 08:00' : datum.value < 136 ? '11 Sep 00:00' : '13 Sep 16:00'"}},
        "text": {"field": "t"},
        "color": {"field": "kind", "type": "nominal", "scale": {"domain": ["blue", "red"], "range": ["#1414ff", "#ff1414"]}, "legend": null}}},

    {"data": {"name": "notes"}, "transform": [{"filter": "datum.w === 'maxred'"}], "mark": {"type": "text", "font": "Liberation Sans", "fontSize": 12, "color": "#ff1010", "align": "left", "baseline": "middle"}, "encoding": {"text": {"field": "t"}}},
    {"data": {"name": "notes"}, "transform": [{"filter": "datum.w === 'minblue'"}], "mark": {"type": "text", "font": "Liberation Sans", "fontSize": 12, "color": "#2626ff", "align": "left", "baseline": "middle"}, "encoding": {"text": {"field": "t"}}},
    {"data": {"name": "notes"}, "transform": [{"filter": "datum.w === 'apm'"}], "mark": {"type": "text", "font": "Liberation Sans", "fontSize": 14, "color": "#ff1a1a", "align": "left", "baseline": "middle"}, "encoding": {"text": {"field": "t"}}},
    {"data": {"name": "notes"}, "transform": [{"filter": "datum.w === 'apls'"}], "mark": {"type": "text", "font": "Liberation Serif", "fontSize": 13, "color": "#36506e", "align": "center", "baseline": "middle"}, "encoding": {"text": {"field": "t"}}},
    {"data": {"name": "notes"}, "transform": [{"filter": "datum.w === 'gelox'"}], "mark": {"type": "text", "font": "Liberation Serif", "fontSize": 10.5, "color": "#36506e", "align": "center", "baseline": "middle"}, "encoding": {"text": {"field": "t"}}},
    {"data": {"name": "notes"}, "transform": [{"filter": "datum.w === 'ml'"}], "mark": {"type": "text", "font": "Liberation Sans", "fontSize": 12, "color": "#3a96f0", "align": "left", "baseline": "middle"}, "encoding": {"text": {"field": "t"}}},
    {"data": {"name": "notes"}, "transform": [{"filter": "datum.w === 'hdr'"}], "mark": {"type": "text", "font": "Liberation Sans", "fontSize": 10, "color": "#4a4a70", "align": "left", "baseline": "middle"}, "encoding": {"text": {"field": "t"}}},
    {"data": {"name": "notes"}, "transform": [{"filter": "datum.w === 'hdr2'"}], "mark": {"type": "text", "font": "Liberation Sans", "fontSize": 10, "color": "#000000", "align": "left", "baseline": "middle"}, "encoding": {"text": {"field": "t"}}},
    {"data": {"name": "notes"}, "transform": [{"filter": "datum.w === 'ybar'"}], "mark": {"type": "text", "font": "Liberation Sans", "fontSize": 11, "color": "#e8c020", "align": "left", "baseline": "middle"}, "encoding": {"text": {"field": "t"}}},
    {"data": {"name": "notes"}, "transform": [{"filter": "datum.w === 'isl'"}], "mark": {"type": "text", "font": "Liberation Sans", "fontSize": 9.5, "color": "#86bc44", "align": "left", "baseline": "middle", "angle": 8}, "encoding": {"text": {"field": "t"}}},
    {"data": {"name": "notes"}, "transform": [{"filter": "datum.w === 'glab'"}], "mark": {"type": "text", "font": "Liberation Sans", "fontSize": 9.5, "color": "#78ac3c", "align": "center", "baseline": "middle", "angle": 68}, "encoding": {"text": {"field": "t"}}},
    {"data": {"name": "notes"}, "transform": [{"filter": "datum.w === 'blab'"}], "mark": {"type": "text", "font": "Liberation Sans", "fontSize": 9.5, "color": "#5aa0e8", "align": "center", "baseline": "middle", "angle": 66}, "encoding": {"text": {"field": "t"}}},
    {"data": {"name": "notes"}, "transform": [{"filter": "datum.w === 'blab2'"}], "mark": {"type": "text", "font": "Liberation Sans", "fontSize": 9.5, "color": "#5aa0e8", "align": "center", "baseline": "middle", "angle": -28}, "encoding": {"text": {"field": "t"}}},

    {"data": {"name": "tags"}, "transform": [{"filter": "datum.w === 'cur'"}], "mark": {"type": "point", "shape": "M-1,-0.382H1V0.382H-1Z", "size": 1156, "filled": true, "color": "#000000", "opacity": 1}},
    {"data": {"name": "tags"}, "transform": [{"filter": "datum.w === 'time'"}], "mark": {"type": "point", "shape": "M-1,-0.16H1V0.16H-1Z", "size": 6561, "filled": true, "color": "#000000", "opacity": 1}},
    {"data": {"name": "tags"}, "mark": {"type": "text", "font": "Liberation Sans", "fontSize": 10, "color": "#ffffff", "align": "center", "baseline": "middle"}, "encoding": {"text": {"field": "t"}}}
  ]
}
